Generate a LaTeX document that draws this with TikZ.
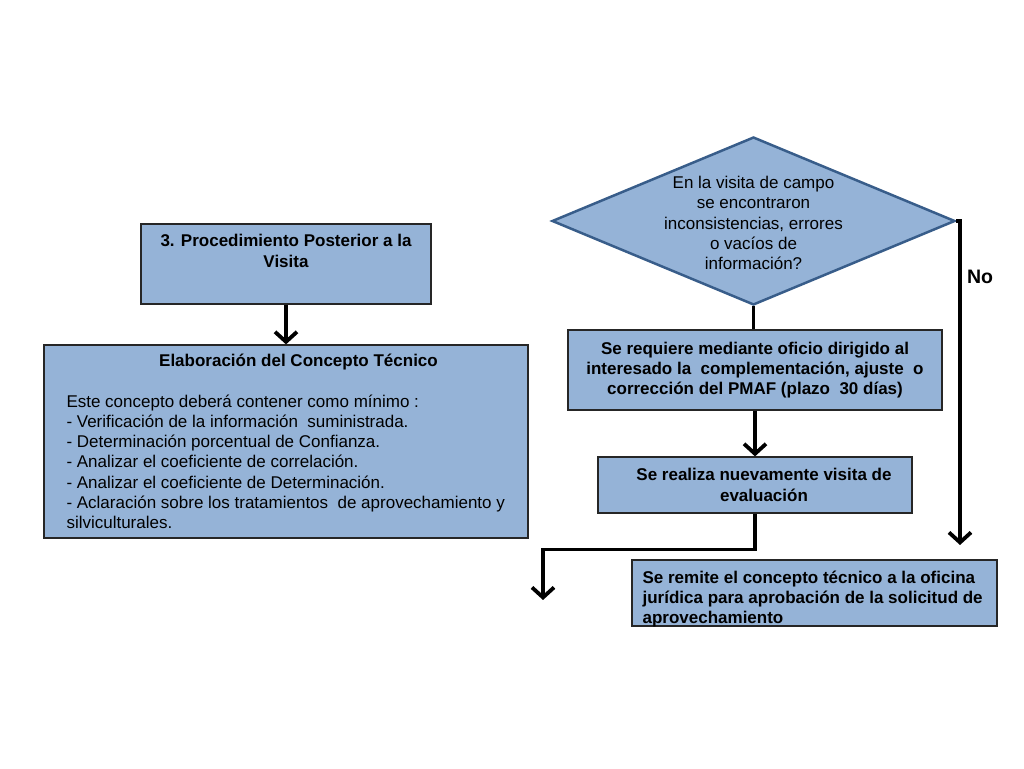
\documentclass[tikz,border=0pt]{standalone}
\usepackage{fontspec}
\setsansfont{Liberation Sans}
\usetikzlibrary{arrows.meta,positioning,shapes.geometric}
\definecolor{boxblue}{RGB}{149,179,215}
\definecolor{edgeblue}{RGB}{56,93,138}

\begin{document}
\begin{tikzpicture}
	[x=1pt, y=1pt, font=\sffamily\fontsize{17}{20.3}\selectfont, inner sep=0pt,
	process/.style	= {draw=black!85, line width=1.2pt, fill=boxblue, rectangle},
	decision/.style	= {draw=edgeblue, line width=2.5pt, fill=boxblue, diamond, minimum width=403pt, minimum height=168pt},
	flow/.style		= {line width=3.8pt, -{Straight Barb[length=10pt,width=22pt]}},
	bold/.style		= {font=\sffamily\bfseries\fontsize{17}{20.3}\selectfont}]

	\useasboundingbox (0,0) rectangle (1024,768);

	\node [process, minimum width=290pt, minimum height=80pt]	at (286,504)	(1)	{};
	\node [bold, align=center, anchor=north]	at ([yshift=-11pt]1.north)	(1a)	{3. Procedimiento Posterior a la\\Visita};

	\node [process, minimum width=484pt, minimum height=193pt, align=left]	at (286,326.5)	(2)
		{\makebox[439pt]{\hspace*{25pt}\bfseries Elaboración del Concepto Técnico}\\
		\mbox{}\\
		Este concepto deberá contener como mínimo :\\
		- Verificación de la información~ suministrada.\\
		- Determinación porcentual de Confianza.\\
		- Analizar el coeficiente de correlación.\\
		- Analizar el coeficiente de Determinación.\\
		- Aclaración sobre los tratamientos~ de aprovechamiento y\\
		silviculturales.};

	\node [decision]	at (753.5,547)	(3)	{};
	\node [align=center]	at ([yshift=-2pt]3.center)	(3a)	{En la visita de campo\\se encontraron\\inconsistencias, errores\\o vacíos de\\información?};

	\node [process, bold, minimum width=374pt, minimum height=80pt, align=center]	at (755,398)	(4)
		{Se requiere mediante oficio dirigido al\\interesado la~ complementación, ajuste~ o\\corrección del PMAF (plazo~ 30 días)};
	\node [process, bold, minimum width=314pt, minimum height=56pt, align=center]	at (755,283)	(5)
		{\hspace*{18pt}Se realiza nuevamente visita de\\\hspace*{18pt}evaluación};
	\node [process, minimum width=365pt, minimum height=66pt]	at (814.5,175)	(6)	{};
	\node [bold, align=left, anchor=north west]	at ([xshift=11pt,yshift=-11pt]6.north west)	(6a)
		{Se remite el concepto técnico a la oficina\\jurídica para aprobación de la solicitud de\\aprovechamiento};

	\coordinate	(7)	at (543,168);
	\coordinate	(8)	at (960,223);

	\draw [flow]	(1) -- (2);
	\draw [line width=3.8pt]	(3.south) -- (3.south |- 4.north);
	\draw [flow]	(4) -- (5);
	\draw [flow]	(5.south) -- ++(0,-36) -| (7);
	\draw [flow]	(3.east) -| (8);

	\node [font=\sffamily\bfseries\fontsize{19.5}{22}\selectfont]	at (980,491.5)	(9)	{No};
\end{tikzpicture}
\end{document}
